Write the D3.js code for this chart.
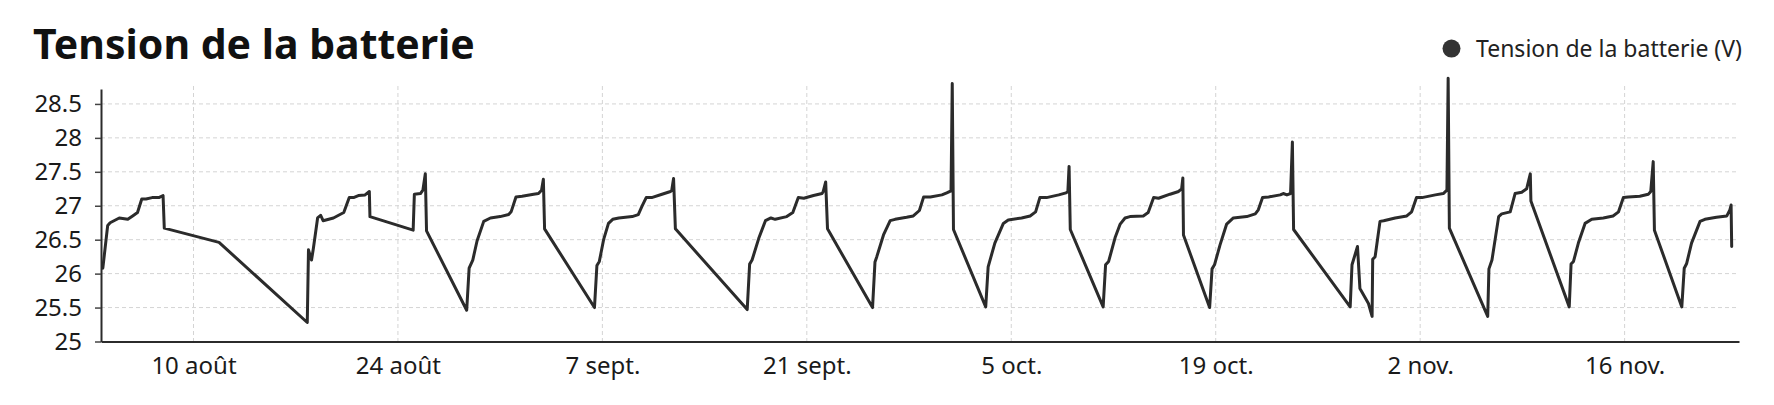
<!DOCTYPE html>
<html>
<head>
<meta charset="utf-8">
<script src="https://cdn.jsdelivr.net/npm/d3@7"></script>
<style>
  body { margin: 0; background: #fff; }
</style>
</head>
<body>
<div id="chart"></div>
<script>
// battery voltage readings (UTC timestamps, volts)
const times = [
  "2025-08-03 19:00", "2025-08-04 03:00", "2025-08-04 07:00", "2025-08-04 22:00", "2025-08-05 12:00",
  "2025-08-05 20:00", "2025-08-06 04:00", "2025-08-06 11:00", "2025-08-06 18:00", "2025-08-07 04:00",
  "2025-08-07 15:00", "2025-08-07 22:00", "2025-08-08 00:00", "2025-08-11 18:00", "2025-08-17 19:00",
  "2025-08-17 21:00", "2025-08-18 02:00", "2025-08-18 05:00", "2025-08-18 12:00", "2025-08-18 17:00",
  "2025-08-18 21:00", "2025-08-19 14:00", "2025-08-20 07:00", "2025-08-20 16:00", "2025-08-20 23:00",
  "2025-08-21 07:00", "2025-08-21 18:00", "2025-08-22 01:00", "2025-08-22 02:00", "2025-08-25 01:00",
  "2025-08-25 03:00", "2025-08-25 13:00", "2025-08-25 17:00", "2025-08-25 21:00", "2025-08-25 23:00",
  "2025-08-28 17:00", "2025-08-28 21:00", "2025-08-29 03:00", "2025-08-29 10:00", "2025-08-29 21:00",
  "2025-08-30 08:00", "2025-08-31 00:00", "2025-08-31 14:00", "2025-08-31 18:00", "2025-09-01 02:00",
  "2025-09-01 12:00", "2025-09-02 07:00", "2025-09-02 15:00", "2025-09-02 20:00", "2025-09-02 23:00",
  "2025-09-03 01:00",
  "2025-09-06 11:00", "2025-09-06 15:00", "2025-09-06 19:00", "2025-09-07 02:00", "2025-09-07 10:00",
  "2025-09-07 17:00", "2025-09-08 03:00", "2025-09-09 01:00", "2025-09-09 11:00", "2025-09-09 17:00",
  "2025-09-10 00:00", "2025-09-10 09:00", "2025-09-11 02:00", "2025-09-11 16:00", "2025-09-11 18:00",
  "2025-09-11 21:00", "2025-09-12 00:00",
  "2025-09-16 22:00", "2025-09-17 02:00", "2025-09-17 06:00", "2025-09-17 17:00", "2025-09-18 04:00",
  "2025-09-18 13:00", "2025-09-18 20:00", "2025-09-19 15:00", "2025-09-20 01:00", "2025-09-20 10:00",
  "2025-09-20 19:00", "2025-09-21 11:00", "2025-09-22 01:00", "2025-09-22 03:00", "2025-09-22 07:00",
  "2025-09-22 10:00",
  "2025-09-25 12:00", "2025-09-25 16:00", "2025-09-25 19:00", "2025-09-26 06:00", "2025-09-26 17:00",
  "2025-09-27 01:00", "2025-09-27 20:00", "2025-09-28 07:00", "2025-09-28 17:00", "2025-09-29 00:00",
  "2025-09-29 11:00", "2025-09-30 06:00", "2025-09-30 14:00", "2025-09-30 21:00", "2025-09-30 23:00",
  "2025-10-01 01:00",
  "2025-10-03 06:00", "2025-10-03 10:00", "2025-10-03 21:00", "2025-10-04 11:00", "2025-10-04 19:00",
  "2025-10-05 17:00", "2025-10-06 07:00", "2025-10-06 16:00", "2025-10-06 23:00", "2025-10-07 10:00",
  "2025-10-08 06:00", "2025-10-08 18:00", "2025-10-08 21:00", "2025-10-08 23:00", "2025-10-09 01:00",
  "2025-10-11 07:00", "2025-10-11 11:00", "2025-10-11 16:00", "2025-10-12 03:00", "2025-10-12 11:00",
  "2025-10-12 19:00", "2025-10-13 03:00", "2025-10-14 01:00", "2025-10-14 09:00", "2025-10-14 18:00",
  "2025-10-15 02:00", "2025-10-15 21:00", "2025-10-16 11:00", "2025-10-16 16:00", "2025-10-16 18:00",
  "2025-10-16 19:00",
  "2025-10-18 14:00", "2025-10-18 18:00", "2025-10-18 22:00", "2025-10-19 07:00", "2025-10-19 18:00",
  "2025-10-20 05:00", "2025-10-21 03:00", "2025-10-21 17:00", "2025-10-21 22:00", "2025-10-22 05:00",
  "2025-10-22 15:00", "2025-10-23 10:00", "2025-10-23 15:00", "2025-10-23 21:00", "2025-10-24 03:00",
  "2025-10-24 06:00", "2025-10-24 08:00",
  "2025-10-28 05:00", "2025-10-28 08:00", "2025-10-28 17:00", "2025-10-28 21:00", "2025-10-29 11:00",
  "2025-10-29 17:00", "2025-10-29 18:00", "2025-10-29 22:00", "2025-10-30 06:00", "2025-10-30 12:00",
  "2025-10-31 07:00", "2025-11-01 02:00", "2025-11-01 10:00", "2025-11-01 18:00", "2025-11-02 03:00",
  "2025-11-03 01:00", "2025-11-03 14:00", "2025-11-03 20:00", "2025-11-03 22:00", "2025-11-04 00:00",
  "2025-11-06 15:00", "2025-11-06 17:00", "2025-11-06 22:00", "2025-11-07 09:00", "2025-11-07 14:00",
  "2025-11-08 04:00", "2025-11-08 12:00", "2025-11-08 23:00", "2025-11-09 07:00", "2025-11-09 13:00",
  "2025-11-09 14:00",
  "2025-11-12 05:00", "2025-11-12 08:00", "2025-11-12 12:00", "2025-11-12 20:00", "2025-11-13 07:00",
  "2025-11-13 18:00", "2025-11-14 13:00", "2025-11-15 05:00", "2025-11-15 14:00", "2025-11-15 22:00",
  "2025-11-16 06:00", "2025-11-17 01:00", "2025-11-17 15:00", "2025-11-17 19:00", "2025-11-17 23:00",
  "2025-11-18 01:00",
  "2025-11-19 22:00", "2025-11-20 02:00", "2025-11-20 06:00", "2025-11-20 14:00", "2025-11-21 04:00",
  "2025-11-21 12:00", "2025-11-22 07:00", "2025-11-23 00:00", "2025-11-23 05:00", "2025-11-23 07:00",
  "2025-11-23 08:00"
];

const voltages = [
  26.08, 26.71, 26.75, 26.82, 26.80,
  26.85, 26.90, 27.10, 27.10, 27.12,
  27.12, 27.15, 26.67, 26.46, 25.28,
  26.35, 26.20, 26.37, 26.82, 26.86,
  26.78, 26.82, 26.90, 27.12, 27.12,
  27.15, 27.16, 27.21, 26.84, 26.64,
  27.17, 27.18, 27.23, 27.47, 26.63,
  25.46, 26.08, 26.20, 26.48, 26.77,
  26.82, 26.84, 26.87, 26.91, 27.13,
  27.14, 27.17, 27.18, 27.23, 27.39,
  26.66,
  25.50, 26.12, 26.18, 26.50, 26.74,
  26.80, 26.82, 26.84, 26.87, 26.99,
  27.12, 27.12, 27.17, 27.21, 27.23,
  27.40, 26.66,
  25.47, 26.14, 26.20, 26.52, 26.78,
  26.82, 26.80, 26.84, 26.90, 27.12,
  27.11, 27.15, 27.18, 27.21, 27.35,
  26.66,
  25.50, 26.17, 26.25, 26.57, 26.78,
  26.80, 26.83, 26.85, 26.93, 27.13,
  27.13, 27.16, 27.19, 27.22, 28.80,
  26.65,
  25.51, 26.10, 26.45, 26.74, 26.79,
  26.82, 26.85, 26.91, 27.12, 27.12,
  27.16, 27.19, 27.21, 27.58, 26.65,
  25.51, 26.13, 26.18, 26.54, 26.73,
  26.82, 26.84, 26.85, 26.90, 27.12,
  27.11, 27.17, 27.21, 27.25, 27.41,
  26.57,
  25.50, 26.07, 26.13, 26.42, 26.73,
  26.82, 26.84, 26.88, 26.94, 27.12,
  27.13, 27.16, 27.18, 27.16, 27.18,
  27.94, 26.65,
  25.51, 26.13, 26.40, 25.78, 25.56,
  25.37, 26.21, 26.25, 26.77, 26.78,
  26.82, 26.85, 26.91, 27.12, 27.12,
  27.16, 27.18, 27.23, 28.88, 26.67,
  25.37, 26.07, 26.20, 26.84, 26.88,
  26.91, 27.18, 27.20, 27.25, 27.47,
  27.07,
  25.51, 26.14, 26.18, 26.45, 26.74,
  26.80, 26.82, 26.85, 26.91, 27.12,
  27.13, 27.14, 27.17, 27.21, 27.65,
  26.64,
  25.51, 26.08, 26.15, 26.45, 26.77,
  26.80, 26.83, 26.85, 26.94, 27.01,
  26.40
];

const yTicks = [25, 25.5, 26, 26.5, 27, 27.5, 28, 28.5];
const xTickDates = ["2025-08-10", "2025-08-24", "2025-09-07", "2025-09-21", "2025-10-05", "2025-10-19", "2025-11-02", "2025-11-16"];
const xTickLabels = ["10 août", "24 août", "7 sept.", "21 sept.", "5 oct.", "19 oct.", "2 nov.", "16 nov."];
const seriesName = "Tension de la batterie (V)";
const chartTitle = "Tension de la batterie";

var width = 1774;
var height = 405;
var margin = {top: 89, right: 35, bottom: 63.5, left: 101};
var font = "'Noto Sans', 'DejaVu Sans', sans-serif";

var parseTime = d3.utcParse("%Y-%m-%d %H:%M");
var parseDay = d3.utcParse("%Y-%m-%d");

var data = times.map((t, i) => ({date: parseTime(t), value: voltages[i]}));

var svg = d3.select("#chart")
    .append("svg")
    .attr("width", width)
    .attr("height", height);

var x = d3.scaleUtc()
    .domain([parseTime("2025-08-03 16:00"), parseTime("2025-11-23 20:00")])
    .range([margin.left, width - margin.right]);

var y = d3.scaleLinear()
    .domain([25, 28.72])
    .range([height - margin.bottom, margin.top]);

// title
svg.append("text")
    .attr("x", 33)
    .attr("y", 59)
    .attr("font-family", font)
    .attr("font-weight", 700)
    .attr("font-size", "41px")
    .attr("fill", "#111")
    .text(chartTitle);

// legend
var legend = svg.append("g").attr("transform", "translate(1451.5,48.6)");
legend.append("circle").attr("r", 9).attr("fill", "#333");
legend.append("text")
    .attr("x", 24.5)
    .attr("dy", "0.35em")
    .attr("font-family", font)
    .attr("font-size", "23px")
    .attr("fill", "#222")
    .text(seriesName);

// grid
var grid = svg.append("g")
    .attr("stroke", "#d4d4d4")
    .attr("stroke-width", 1)
    .attr("stroke-dasharray", "4,3");

grid.selectAll(".hgrid")
    .data(yTicks.filter(d => d > 25))
    .enter().append("line")
    .attr("x1", margin.left)
    .attr("x2", width - margin.right)
    .attr("y1", d => y(d))
    .attr("y2", d => y(d));

grid.selectAll(".vgrid")
    .data(xTickDates.map(parseDay))
    .enter().append("line")
    .attr("x1", d => x(d))
    .attr("x2", d => x(d))
    .attr("y1", margin.top - 3)
    .attr("y2", height - margin.bottom);

// line
var line = d3.line()
    .x(d => x(d.date))
    .y(d => y(d.value));

svg.append("path")
    .datum(data)
    .attr("fill", "none")
    .attr("stroke", "#2b2b2b")
    .attr("stroke-width", 3)
    .attr("stroke-linejoin", "round")
    .attr("stroke-linecap", "round")
    .attr("d", line);

// Y axis
var yAxis = svg.append("g")
    .attr("transform", "translate(" + margin.left + ",0)")
    .call(d3.axisLeft(y)
        .tickValues(yTicks)
        .tickFormat(d => d)
        .tickSize(6)
        .tickSizeOuter(0)
        .tickPadding(13));

// X axis
var xAxis = svg.append("g")
    .attr("transform", "translate(0," + (height - margin.bottom) + ")")
    .call(d3.axisBottom(x)
        .tickValues(xTickDates.map(parseDay))
        .tickFormat((d, i) => xTickLabels[i])
        .tickSize(0)
        .tickSizeOuter(0)
        .tickPadding(15));

[yAxis, xAxis].forEach(g => {
    g.attr("font-family", font).attr("font-size", "24px");
    g.select(".domain").attr("stroke", "#2b2b2b").attr("stroke-width", 2);
    g.selectAll(".tick line").attr("stroke", "#444").attr("stroke-width", 1.5);
    g.selectAll(".tick text").attr("fill", "#1a1a1a");
});
</script>
</body>
</html>
